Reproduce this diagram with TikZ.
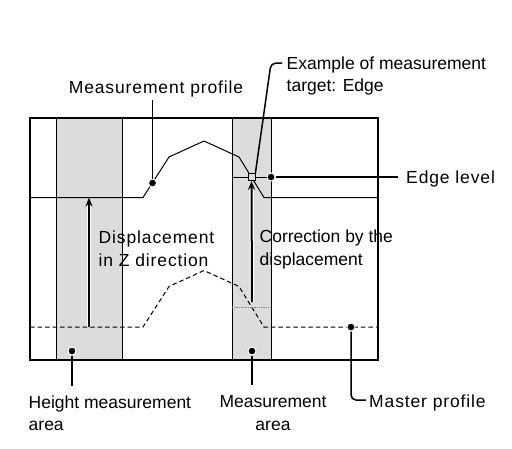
\documentclass[tikz,border=0pt]{standalone}
\usepackage{fontspec}
\setmainfont{Liberation Sans}
\newfontfamily\widefont[LetterSpace=5]{Liberation Sans}
\usetikzlibrary{arrows.meta, positioning}
\definecolor{areagray}{HTML}{DCDCDC}

\begin{document}
\begin{tikzpicture}[x=1pt, y=-1pt,
        font=\fontsize{17.5}{22.3}\selectfont,
        frame/.style={draw, line width=1.3pt},
        divider/.style={draw, line width=1pt},
        profile/.style={draw, line width=1pt, line join=round},
        master/.style={draw, line width=1pt, dash pattern=on 4.5pt off 3pt},
        leader/.style={draw, line width=1.5pt, rounded corners=5pt},
        dot/.style={circle, fill=black, draw=white, line width=1pt, inner sep=0pt, minimum size=8pt},
        label/.style={inner sep=0pt, align=left},
        wide/.style={font=\widefont\fontsize{17.5}{22.3}\selectfont},
        line/.style={draw, line width=2pt, -{Stealth[length=9pt,width=7pt]},
            preaction={draw=white, line width=4.5pt}}]

        \useasboundingbox[fill=white] (0,0) rectangle (512,448);

        % Areas
        \fill[areagray] (56,118) rectangle (122,360);
        \fill[areagray] (232,118) rectangle (271,360);
        \foreach \xx in {56,122,232,271}
            \draw[divider] (\xx,118) -- (\xx,360);
        \draw[frame] (30,118) rectangle (378,360);

        % Profiles
        \draw[profile] (30,197.5) -- (143,197.5) -- (169,157) -- (204,141)
            -- (239,157) -- (264,197.5) -- (378,197.5);
        \draw[master] (30,327) -- (143,327) -- (169,286.5) -- (204,270.5)
            -- (239,286.5) -- (264,327) -- (378,327);
        \draw[gray, densely dotted, line width=0.8pt] (232,307) -- (271,307);

        % Nodes
        \node[draw, fill=areagray, line width=0.8pt, minimum size=7pt, inner sep=0pt] (edgebox) at (251.5,177) {};
        \node[dot] (mpdot) at (152.5,183) {};
        \node[dot] (edgedot) at (271,177) {};
        \node[dot] (msdot) at (351,327) {};
        \node[dot] (hadot) at (72,351) {};
        \node[dot] (madot) at (252,351) {};
        \coordinate (dzlow) at (89,327);
        \coordinate (dzhigh) at (89,197.5);
        \coordinate (corlow) at (252,302);
        \coordinate (mpend) at (152.5,100);
        \coordinate (exbend) at (271,63);
        \coordinate (exend) at (282,63);
        \coordinate (edgeend) at (398,177);
        \coordinate (msend) at (366,400);
        \coordinate (haend) at (72,386);
        \coordinate (maend) at (252,385);

        \node[label, wide, anchor=base] (mptxt) at (156,93.5) {Measurement profile};
        \node[label, anchor=north west] (extxt) at (286.5,56.5) {Example of measurement\\target: Edge};
        \node[label, wide, anchor=base west] (edgetxt) at (406,183.5) {Edge level};
        \node[label, wide, anchor=north west] (dztxt) at (98.5,231) {Displacement\\in Z direction};
        \node[label, anchor=north west] (cortxt) at (259.5,230) {Correction by the\\displacement};
        \node[label, anchor=north west] (hatxt) at (28.5,395.5) {Height measurement\\area};
        \node[label, align=center, anchor=north] (matxt) at (273,395.5) {Measurement\\area};
        \node[label, wide, anchor=base west] (mstxt) at (369,407) {Master profile};

        % Edges
        \draw[line] (dzlow) -- (dzhigh);
        \draw[line] (corlow) -- (edgebox.south);
        \draw[line width=1pt] (232,177) -- (edgebox.west);
        \draw[line width=1pt] (edgebox.east) -- (edgedot);
        \draw[leader] (edgedot) -- (edgeend);
        \draw[leader] (mpdot) -- (mpend);
        \draw[leader] (edgebox.north east) -- (exbend) -- (exend);
        \draw[leader] (msdot) |- (msend);
        \draw[leader] (hadot) -- (haend);
        \draw[leader] (madot) -- (maend);

    \end{tikzpicture}
\end{document}
